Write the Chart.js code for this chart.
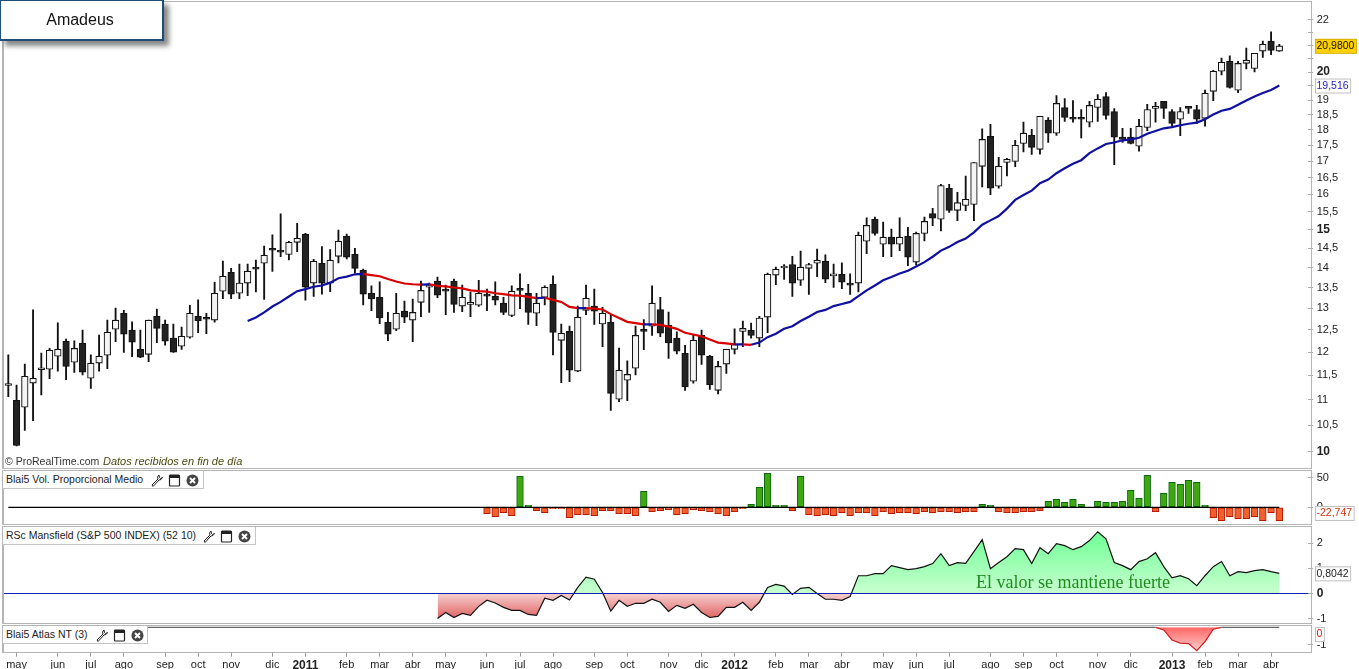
<!DOCTYPE html>
<html>
<head>
<meta charset="utf-8">
<title>Amadeus</title>
<script src="https://cdn.jsdelivr.net/npm/chart.js@4"></script>
<style>
  body { margin: 0; background: #fff; overflow: hidden; font-family: "Liberation Sans", sans-serif; }
  canvas { position: absolute; left: 0; }
  .frame { position: absolute; left: 2px; width: 1307px; border: 1px solid #b4b4b4; border-left-width: 2px; box-sizing: content-box; pointer-events: none; }
  .legend { position: absolute; left: 3px; height: 17px; line-height: 17px; background: #fff; border-right: 1px solid #c4c4c4; border-bottom: 1px solid #c4c4c4; font-size: 10.5px; color: #222; padding-left: 3px; }
  .legend svg { position: absolute; top: 3px; width: 13px; height: 13px; }
  #title { position: absolute; left: 0; top: 0; width: 158px; height: 38px; line-height: 38px; padding-right: 3px; border: 1px solid #1f4e79; border-width: 1px 2px 2px 1px; background: #fff; text-align: center; font-size: 16px; color: #111; box-shadow: 5px 5px 5px #888; }
  #source { position: absolute; left: 5px; top: 455px; font-size: 10.5px; color: #333; white-space: pre; }
  #source i { position: absolute; left: 98px; top: 0; font-size: 11px; color: #4a4a10; }
  #note { position: absolute; left: 976px; top: 572px; font: 18px "Liberation Serif", serif; color: #1e8c1e; white-space: nowrap; }
</style>
</head>
<body>
<canvas id="mainChart" width="1359" height="466" style="top:1px"></canvas>
<canvas id="volChart" width="1359" height="52" style="top:471px"></canvas>
<canvas id="rscChart" width="1359" height="95" style="top:527px"></canvas>
<canvas id="atlasChart" width="1359" height="43" style="top:626px"></canvas>

<div class="frame" style="top:1px;height:466px"></div>
<div class="frame" style="top:470px;height:53px"></div>
<div class="frame" style="top:526px;height:96px"></div>
<div class="frame" style="top:625px;height:26px"></div>

<div id="title">Amadeus</div>
<div id="source">© ProRealTime.com<i>Datos recibidos en fin de día</i></div>
<div id="note">El valor se mantiene fuerte</div>

<div class="legend" style="top:471px;width:197px">Blai5 Vol. Proporcional Medio
  <svg style="left:147px" viewBox="0 0 13 13"><use href="#wrench"/></svg>
  <svg style="left:165px" viewBox="0 0 13 13"><use href="#win"/></svg>
  <svg style="left:183px" viewBox="0 0 13 13"><use href="#close"/></svg>
</div>
<div class="legend" style="top:527px;width:249px">RSc Mansfield (S&amp;P 500 INDEX) (52 10)
  <svg style="left:199px" viewBox="0 0 13 13"><use href="#wrench"/></svg>
  <svg style="left:217px" viewBox="0 0 13 13"><use href="#win"/></svg>
  <svg style="left:235px" viewBox="0 0 13 13"><use href="#close"/></svg>
</div>
<div class="legend" style="top:626px;width:141px">Blai5 Atlas NT (3)
  <svg style="left:92px" viewBox="0 0 13 13"><use href="#wrench"/></svg>
  <svg style="left:110px" viewBox="0 0 13 13"><use href="#win"/></svg>
  <svg style="left:128px" viewBox="0 0 13 13"><use href="#close"/></svg>
</div>

<svg width="0" height="0" style="position:absolute">
  <symbol id="wrench" viewBox="0 0 13 13"><path d="M9 1 L7.5 3 L8 5 L2 11 L3 12.5 L9 6 L11 5.5 L12.5 3.5 L10.5 4.5 L9.5 3.5 Z" fill="#fff" stroke="#222" stroke-width="1"/></symbol>
  <symbol id="win" viewBox="0 0 13 13"><rect x="1.5" y="1" width="10" height="11" rx="1" fill="#fff" stroke="#222" stroke-width="1.2"/><rect x="1.5" y="1" width="10" height="3" fill="#222"/></symbol>
  <symbol id="close" viewBox="0 0 13 13"><circle cx="6.5" cy="6.5" r="6" fill="#444"/><path d="M4 4 L9 9 M9 4 L4 9" stroke="#fff" stroke-width="2"/></symbol>
</svg>

<script>
const gap = n => Array(n).fill(null);

// weekly candles, may 2010 - abr 2013
const opens = [11.29,10.99,10.85,11.34,11.62,11.63,11.91,12.24,11.78,12.20,
  11.44,11.76,11.93,12.51,12.88,12.49,12.06,11.95,12.81,12.63,
  12.31,12.13,12.33,12.81,12.76,12.72,13.41,13.88,13.36,13.61,
  14.01,14.11,14.47,14.45,14.34,14.66,14.88,13.61,14.11,13.61,
  14.29,14.82,14.34,13.93,13.36,13.26,12.67,12.51,12.93,12.72,
  13.14,13.51,13.66,13.44,13.66,13.05,13.09,13.07,13.31,13.29,
  13.12,12.83,13.46,13.36,12.88,13.26,13.58,12.26,12.46,11.59,
  12.95,13.05,12.63,12.67,11.01,11.40,11.65,12.49,12.58,12.97,
  12.60,12.31,11.97,11.38,12.37,11.91,11.19,11.74,12.06,12.46,
  12.49,12.31,12.79,13.81,13.99,14.08,13.68,13.98,14.11,14.16,
  13.79,13.83,13.58,13.61,14.69,15.29,14.61,14.80,14.61,14.82,
  14.14,14.90,15.45,15.29,16.18,15.54,15.68,15.71,16.84,17.79,
  16.24,16.96,16.99,17.56,17.82,17.37,18.32,17.89,18.75,18.38,
  18.38,18.25,18.75,19.13,18.61,17.76,17.76,17.47,18.08,18.72,
  18.96,18.61,18.35,18.75,18.68,18.38,19.31,20.03,20.40,19.35,
  20.32,20.13,20.78,21.16,20.78];
const highs = [11.94,11.30,11.74,12.96,11.98,12.08,12.66,12.29,12.25,12.49,
  11.94,12.38,12.72,13.00,12.95,12.68,12.49,12.72,12.98,12.72,
  12.63,12.56,13.07,13.20,12.88,13.63,14.17,13.98,14.09,14.09,
  14.19,14.56,14.86,15.44,14.69,15.18,14.90,14.21,14.55,14.47,
  14.99,14.88,14.50,13.96,13.54,13.64,12.90,13.36,13.17,13.22,
  13.66,13.61,13.76,13.56,13.71,13.56,13.39,13.68,13.46,13.64,
  13.26,13.54,13.84,13.58,13.36,13.54,13.79,12.63,12.58,13.05,
  13.56,13.46,13.02,12.83,12.09,11.81,12.58,12.73,13.54,13.26,
  12.91,12.45,12.15,12.37,12.49,11.93,11.80,12.06,12.52,12.70,
  12.65,12.81,13.86,14.01,14.08,14.29,14.43,14.11,14.48,14.33,
  14.09,14.12,13.84,14.94,15.33,15.35,15.21,15.02,15.33,15.07,
  14.94,15.35,15.60,16.30,16.30,16.06,16.54,16.96,18.03,18.18,
  17.12,17.09,17.66,18.26,18.02,18.45,18.41,19.16,19.06,18.99,
  18.68,18.96,19.20,19.27,18.71,18.05,18.05,18.35,18.86,18.93,
  18.96,18.68,18.75,18.79,18.82,19.35,20.06,20.52,20.60,20.40,
  20.90,20.70,21.16,21.52,21.04];
const lows = [11.06,10.11,10.40,10.59,11.10,11.43,11.59,11.41,11.56,11.51,
  11.23,11.59,11.64,12.23,11.99,11.90,11.88,11.79,12.21,12.15,
  11.99,12.06,12.31,12.43,12.41,12.67,13.23,13.23,13.23,13.30,
  13.39,13.21,13.90,14.28,14.20,14.41,13.19,13.28,13.34,13.40,
  14.12,14.22,13.86,13.08,12.94,12.64,12.25,12.48,12.66,12.23,
  12.80,12.90,13.25,12.85,12.90,12.92,12.80,13.04,12.94,13.08,
  12.85,12.80,12.99,12.62,12.59,13.08,11.94,11.35,11.37,11.58,
  12.85,12.62,12.12,10.79,10.96,10.98,11.51,12.05,12.37,12.34,
  11.86,11.96,11.19,11.34,11.73,11.21,11.12,11.54,11.96,12.12,
  12.31,12.12,12.43,13.57,13.70,13.28,13.55,13.33,13.77,13.62,
  13.50,13.47,13.33,13.39,14.36,14.85,14.28,14.28,14.44,14.05,
  14.07,14.70,15.11,14.97,15.48,15.25,15.53,15.25,16.22,15.99,
  16.18,16.55,16.83,17.29,17.21,17.22,17.59,17.82,18.28,18.25,
  17.74,18.10,18.28,18.35,16.89,17.59,17.54,17.31,17.97,18.25,
  18.38,18.10,17.81,18.55,18.21,18.12,18.98,19.90,19.42,19.26,
  20.12,20.01,20.54,20.65,20.77];
const closes = [11.31,10.12,11.48,11.44,11.63,12.04,12.06,11.69,12.08,11.57,
  11.76,11.91,12.44,12.72,12.40,12.22,11.89,12.72,12.53,12.24,
  12.00,12.35,12.88,12.70,12.74,13.36,13.78,13.34,13.61,13.91,
  13.96,14.32,14.45,14.40,14.66,14.77,13.51,14.16,13.61,14.19,
  14.69,14.27,13.98,13.34,13.22,12.77,12.40,12.88,12.79,12.90,
  13.43,13.56,13.31,13.41,13.09,13.26,13.14,13.36,13.29,13.19,
  12.90,13.41,13.43,12.90,13.12,13.51,12.44,12.42,11.61,12.79,
  13.24,12.93,12.88,11.13,11.61,11.52,12.37,12.46,13.12,12.42,
  12.20,12.02,11.26,12.26,11.93,11.30,11.69,12.06,12.17,12.53,
  12.37,12.77,13.83,13.96,14.01,13.61,14.01,14.08,14.19,13.71,
  13.81,13.63,13.56,14.85,15.12,14.90,14.80,14.61,14.80,14.27,
  14.90,15.23,15.32,16.26,15.54,15.76,15.86,16.96,17.69,16.18,
  16.84,17.06,17.50,17.89,17.43,18.45,17.89,18.89,18.41,18.35,
  18.35,18.82,19.03,18.48,17.76,17.69,17.56,18.12,18.68,18.79,
  18.72,18.21,18.61,18.72,18.35,19.24,20.03,20.36,19.45,20.32,
  20.44,20.70,21.04,20.81,20.98];

const maValues = gap(29).concat([12.70,12.78,12.90,13.04,13.15,13.28,13.41,13.46,13.52,13.55,13.62,
  13.73,13.77,13.83,13.84,13.81,13.78,13.71,13.65,13.60,13.58,
  13.57,13.58,13.54,13.53,13.50,13.48,13.43,13.41,13.40,13.36,
  13.34,13.31,13.30,13.27,13.24,13.25,13.20,13.15,13.03,13.00,
  13.00,12.99,12.97,12.86,12.77,12.68,12.65,12.62,12.62,12.61,
  12.57,12.52,12.43,12.39,12.35,12.28,12.21,12.19,12.17,12.17,
  12.16,12.21,12.33,12.41,12.52,12.58,12.70,12.80,12.91,12.96,
  13.05,13.10,13.15,13.29,13.43,13.55,13.68,13.76,13.85,13.92,
  14.03,14.14,14.28,14.44,14.54,14.67,14.76,14.93,15.14,15.26,
  15.38,15.59,15.84,15.98,16.11,16.33,16.44,16.63,16.78,16.92,
  17.03,17.25,17.40,17.54,17.59,17.66,17.69,17.74,17.87,17.96,
  18.05,18.09,18.15,18.20,18.24,18.35,18.51,18.64,18.70,18.84,
  18.99,19.13,19.25,19.36,19.516]);

const volValues = gap(58).concat([-10.8,-15.9,-9.1,-14.2,52.8,3.4,-5.7,-9.1,-2.3,-2.3,-17.6,-12.5,
  -12.5,-14.2,-5.7,-5.7,-10.8,-10.8,-14.2,27.3,-7.4,-5.7,-4,-12.5,
  -10.8,-4,-5.7,-7.4,-10.8,-14.2,-7.4,-2.3,5.1,34,57.9,3.4,
  3.4,-5.7,52.8,-12.5,-14.2,-12.5,-14.2,-9.1,-14.2,-9.1,-9.1,-14.2,
  -7.4,-10.8,-9.1,-9.1,-10.8,-7.4,-9.1,-7.4,-7.4,-9.1,-7.4,-7.4,
  5.1,3.4,-7.4,-9.1,-9.1,-7.4,-7.4,-5.7,10.2,13.6,8.5,13.6,
  5.1,0,10.2,8.5,8.5,10.2,29,15.3,54.5,-7.4,23.9,42.6,
  39.2,46,42.6,3.4,-17.6,-22.7,-15.9,-19.3,-19.3,-15.9,-22.7,-9.1,-22.747]);

const rscValues = gap(52).concat([-0.98,-0.74,-0.94,-0.78,-0.86,-0.50,-0.26,-0.37,
  -0.54,-0.66,-0.66,-0.82,-0.86,-0.18,-0.26,-0.07,-0.25,0.25,
  0.65,0.57,0.05,-0.69,-0.26,-0.50,-0.38,-0.38,-0.22,-0.34,
  -0.70,-0.46,-0.58,-0.42,-0.74,-0.94,-0.90,-0.54,-0.54,-0.34,
  -0.66,-0.34,0.25,0.37,0.30,-0.03,0.21,0.25,0.01,-0.22,
  -0.22,-0.26,-0.11,0.71,0.71,0.79,0.79,1.11,1.03,0.95,
  0.99,1.07,1.19,1.58,1.11,1.23,1.20,1.66,2.14,0.99,
  1.23,1.46,1.78,1.74,1.19,1.82,1.58,1.98,1.90,1.74,
  1.86,2.10,2.45,2.17,1.23,1.11,0.95,1.27,1.38,1.62,
  1.07,0.63,0.71,0.59,0.32,0.71,1.07,1.27,0.71,0.87,
  0.83,0.91,0.95,0.87,0.8042]);

const atlasValues = [0,0,0,0,0,0,0,0,0,0,0,0,0,0,0,0,0,0,0,0,0,0,0,0,0,0,0,0,0,0,
  0,0,0,0,0,0,0,0,0,0,0,0,0,0,0,0,0,0,0,0,0,0,0,0,0,0,0,0,0,0,
  0,0,0,0,0,0,0,0,0,0,0,0,0,0,0,0,0,0,0,0,0,0,0,0,0,0,0,0,0,0,
  0,0,0,0,0,0,0,0,0,0,0,0,0,0,0,0,0,0,0,0,0,0,0,0,0,0,0,0,0,0,
  0,0,0,0,0,0,0,0,0,0,0,0,0,0,0,0,0,0,0,0,-0.15,-0.72,-0.90,-0.92,-1.32,-0.81,-0.11,0,
  0,0,0,0,0,0,0];

const priceTicks = [22,21.5,21,20.5,20,19.5,19,18.5,18,17.5,17,16.5,16,15.5,15,14.5,14,13.5,13,12.5,12,11.5,11,10.5,10];
const hiddenPriceLabels = [21.5,21,20.5,19.5];
const boldPriceLabels = [10,15,20];
const monthTicks = [1,6,10,14,19,23,27,32,36,41,45,49,53,58,62,66,71,75,80,84,88,93,97,101,106,110,114,119,123,127,132,136,141,145,149,153];
const monthLabels = ['may','jun','jul','ago','sep','oct','nov','dic','2011','feb','mar','abr','may','jun','jul','ago','sep','oct','nov','dic','2012','feb','mar','abr','may','jun','jul','ago','sep','oct','nov','dic','2013','feb','mar','abr'];

// three empty weeks are left on the right of the last candle
const weeks = Array.from({ length: 158 }, (_, i) => i);

Chart.defaults.font.family = '"Liberation Sans", sans-serif';
Chart.defaults.font.size = 11;
Chart.defaults.color = '#222';
Chart.defaults.animation = false;

function tagPlugin(text, value, bg, border, color) {
  return {
    id: 'tag',
    afterDraw(chart) {
      const c = chart.ctx, area = chart.chartArea, h = 14;
      c.save();
      c.font = '10.5px "Liberation Sans"';
      const w = c.measureText(text).width + 3;
      let y = chart.scales.y.getPixelForValue(value);
      y = Math.max(area.top + h / 2 + 1, Math.min(area.bottom - h / 2 - 3, y));
      c.fillStyle = bg;
      c.fillRect(1315, y - h / 2, w, h);
      c.strokeStyle = border;
      c.strokeRect(1315.5, y - h / 2 + 0.5, w, h);
      c.fillStyle = color;
      c.textBaseline = 'middle';
      c.fillText(text, 1316.5, y + 0.5);
      c.restore();
    }
  };
}

function xScale(show) {
  return {
    offset: true,
    display: show,
    grid: { offset: false, drawOnChartArea: false, tickLength: 5, tickColor: '#999' },
    border: { display: false },
    afterBuildTicks: s => { s.ticks = monthTicks.map(v => ({ value: v })); },
    afterFit: s => { s.height = show ? 17.3 : 0; s.paddingLeft = 0; s.paddingRight = 0; },
    ticks: {
      autoSkip: false, maxRotation: 0, padding: 2,
      callback: v => monthLabels[monthTicks.indexOf(v)],
      font: ctx => monthLabels[ctx.index] && monthLabels[ctx.index].length === 4 ? { size: 12, weight: 'bold' } : { size: 11 }
    }
  };
}

function yScale(extra, tickValues, label, bold) {
  return Object.assign({
    position: 'right',
    grid: { drawOnChartArea: false, tickLength: 5, tickColor: '#aaa' },
    border: { display: false },
    afterBuildTicks: s => { s.ticks = tickValues.map(v => ({ value: v })); },
    afterFit: s => { s.width = 50.8; s.paddingTop = 0; s.paddingBottom = 0; },
    ticks: {
      autoSkip: false, padding: 3.5, align: 'center', crossAlign: 'near',
      callback: label,
      font: ctx => ctx.tick && bold.includes(ctx.tick.value) ? { size: 12, weight: 'bold' } : { size: 11 }
    }
  }, extra);
}

const baseOptions = {
  responsive: false,
  events: [],
  layout: { padding: { left: 4.17 } },
  plugins: { legend: { display: false }, tooltip: { enabled: false }, title: { display: false } }
};

new Chart('mainChart', {
  type: 'bar',
  data: {
    labels: weeks,
    datasets: [
      {
        type: 'line', data: maValues, order: 0, borderWidth: 2.2, pointRadius: 0, fill: false,
        borderColor: '#1010a0',
        segment: { borderColor: ctx => ctx.p1.parsed.y >= ctx.p0.parsed.y ? '#1010a0' : '#d80000' }
      },
      {
        data: opens.map((o, i) => [o, closes[i]]), order: 1, grouped: false, barThickness: 6.6, minBarLength: 2,
        backgroundColor: closes.map((c, i) => c < opens[i] ? '#222' : '#f4f4f4'),
        borderColor: '#111', borderWidth: 1.1, borderSkipped: false
      },
      {
        data: lows.map((l, i) => [l, highs[i]]), order: 2, grouped: false, barThickness: 1.2,
        backgroundColor: '#111', borderWidth: 0
      }
    ]
  },
  options: Object.assign({}, baseOptions, {
    scales: {
      x: xScale(false),
      y: yScale({ type: 'logarithmic', min: 9.73, max: 22.77 }, priceTicks,
        v => hiddenPriceLabels.includes(v) ? '' : String(v).replace('.', ','), boldPriceLabels)
    }
  }),
  plugins: [
    {
      id: 'lastTags',
      afterDraw(chart) {
        tagPlugin('20,9800', 20.98, '#ffd000', '#d8b000', '#111').afterDraw(chart);
        tagPlugin('19,516', 19.516, '#fff', '#c0c0c0', '#2020c0').afterDraw(chart);
      }
    }
  ]
});

new Chart('volChart', {
  type: 'bar',
  data: {
    labels: weeks,
    datasets: [
      { type: 'line', data: closes.map(() => 0), order: 0, borderColor: '#000', borderWidth: 1.2, pointRadius: 0, fill: false },
      {
        data: volValues, order: 1, grouped: false, barThickness: 6.7,
        backgroundColor: volValues.map(v => v > 0 ? '#3ea812' : '#f2602e'),
        borderColor: volValues.map(v => v > 0 ? '#0c660c' : '#b81a00'),
        borderWidth: 1, borderSkipped: false
      }
    ]
  },
  options: Object.assign({}, baseOptions, {
    scales: {
      x: xScale(false),
      y: yScale({ min: -26.8, max: 61.9 }, [50, 0], v => String(v), [])
    }
  }),
  plugins: [tagPlugin('-22,747', -22.747, '#fff', '#c0c0c0', '#d83010')]
});

const rscCtx = document.getElementById('rscChart').getContext('2d');
const greenFill = rscCtx.createLinearGradient(0, 5, 0, 66.7);
greenFill.addColorStop(0, '#6eff94');
greenFill.addColorStop(1, '#c8ffd0');
const redFill = rscCtx.createLinearGradient(0, 66.7, 0, 92);
redFill.addColorStop(0, '#f6cfcf');
redFill.addColorStop(1, '#e06060');

new Chart('rscChart', {
  type: 'line',
  data: {
    labels: weeks,
    datasets: [{
      data: rscValues, borderColor: '#111', borderWidth: 1.2, pointRadius: 0,
      fill: { target: { value: 0 }, above: greenFill, below: redFill }
    }]
  },
  options: Object.assign({}, baseOptions, {
    scales: {
      x: xScale(false),
      y: yScale({ min: -1.119, max: 2.636 }, [2, 1, 0, -1], v => String(v), [0])
    }
  }),
  plugins: [
    tagPlugin('0,8042', 0.8042, '#fff', '#c0c0c0', '#222'),
    {
      id: 'zeroLine',
      afterDatasetsDraw(chart) {
        const c = chart.ctx, y = Math.floor(chart.scales.y.getPixelForValue(0)) + 0.5;
        c.save();
        c.strokeStyle = '#1020b0';
        c.lineWidth = 1;
        c.beginPath();
        c.moveTo(chart.chartArea.left, y);
        c.lineTo(chart.chartArea.right, y);
        c.stroke();
        c.restore();
      }
    }
  ]
});

const atlasCtx = document.getElementById('atlasChart').getContext('2d');
const atlasFill = atlasCtx.createLinearGradient(0, 1, 0, 25);
atlasFill.addColorStop(0, '#ff6464');
atlasFill.addColorStop(1, '#ffd0d0');

new Chart('atlasChart', {
  type: 'line',
  data: {
    labels: weeks,
    datasets: [{
      data: atlasValues, borderColor: '#666', borderWidth: 1.3, pointRadius: 0,
      segment: { borderColor: ctx => ctx.p0.parsed.y < 0 || ctx.p1.parsed.y < 0 ? '#d02020' : '#666' },
      fill: { target: { value: 0 }, above: 'rgba(0,0,0,0)', below: atlasFill }
    }]
  },
  options: Object.assign({}, baseOptions, {
    scales: {
      x: xScale(true),
      y: yScale({ min: -1.379, max: 0.073 }, [-1], v => String(v), [])
    }
  }),
  plugins: [tagPlugin('0', 0, '#fff', '#c0c0c0', '#e01010')]
});
</script>
</body>
</html>
